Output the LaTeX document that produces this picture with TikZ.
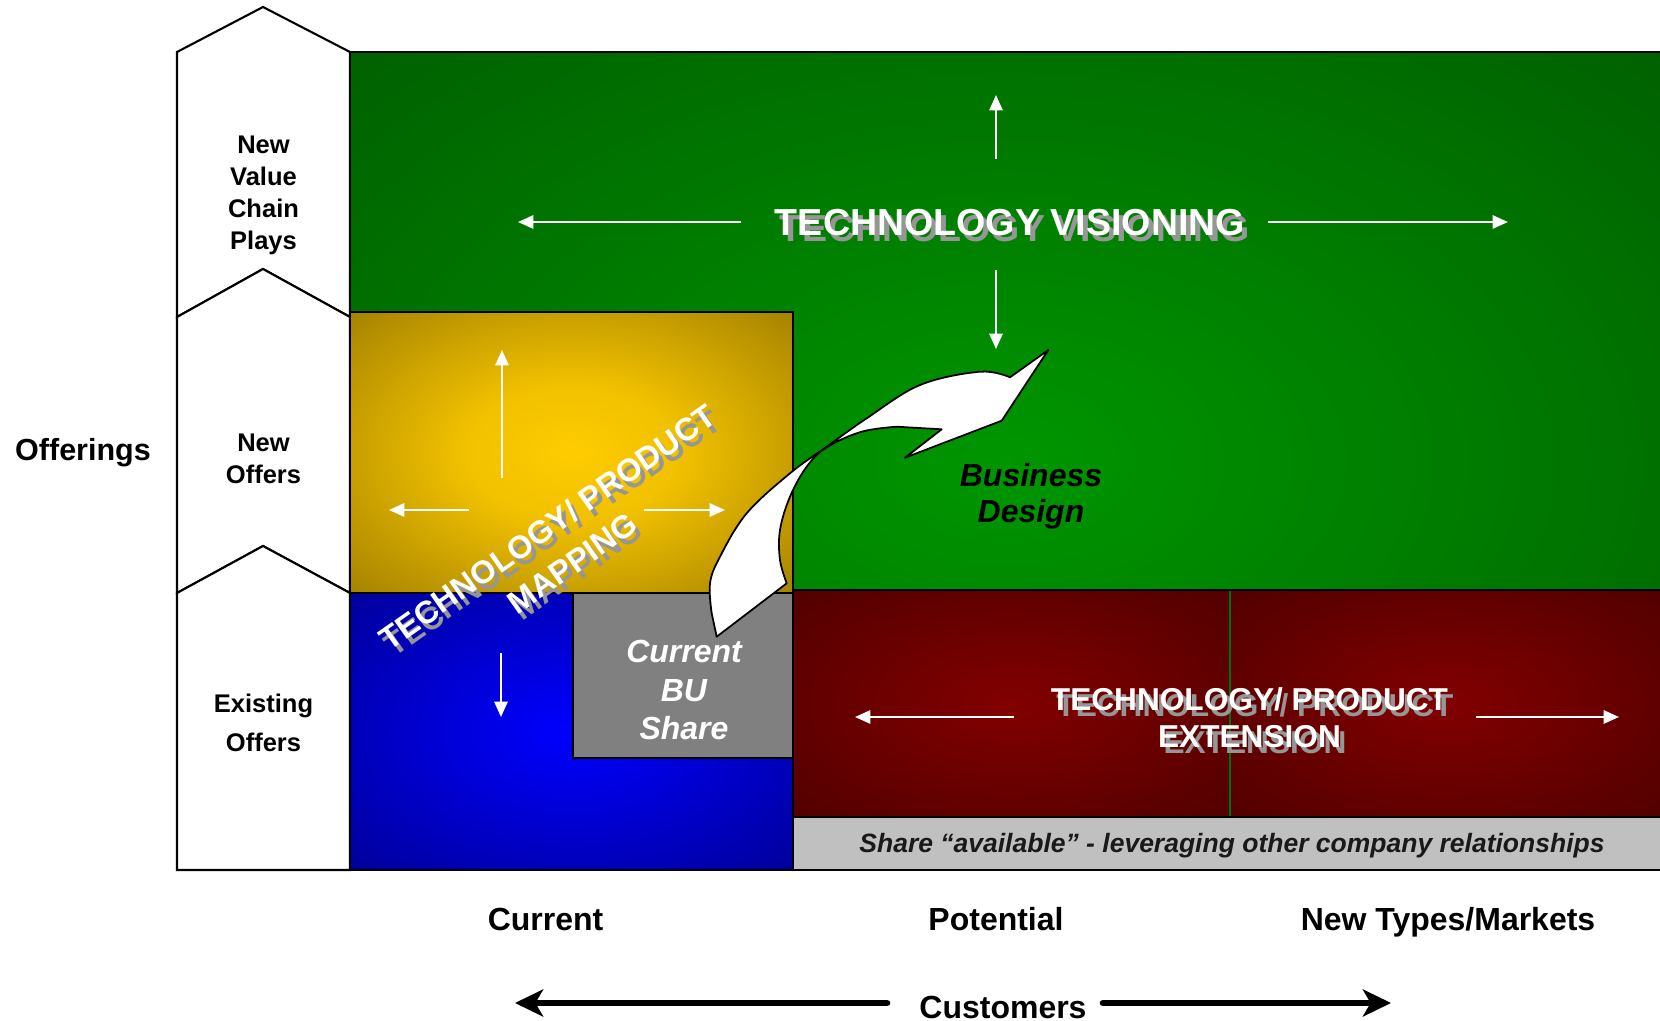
\documentclass[tikz,border=0pt]{standalone}
\usepackage{fontspec}
\setmainfont{Liberation Sans}
\usetikzlibrary{arrows.meta}

\definecolor{visionlight}{RGB}{0,150,0}
\definecolor{visiondark}{RGB}{0,75,0}
\definecolor{mappinglight}{RGB}{255,204,0}
\definecolor{mappingdark}{RGB}{118,92,0}
\definecolor{sharelight}{RGB}{0,0,255}
\definecolor{sharedark}{RGB}{0,0,115}
\definecolor{extensionlight}{RGB}{130,0,0}
\definecolor{extensiondark}{RGB}{62,0,0}
\definecolor{availablegray}{RGB}{192,192,192}
\definecolor{bugray}{RGB}{128,128,128}
\definecolor{shadegray}{RGB}{150,150,150}

\pgfdeclareradialshading{vision}{\pgfpoint{0bp}{0bp}}{color(0bp)=(visionlight); color(50bp)=(visiondark); color(75bp)=(visiondark)}
\pgfdeclareradialshading{mapping}{\pgfpoint{0bp}{0bp}}{color(0bp)=(mappinglight); color(12bp)=(mappinglight!90!mappingdark); color(50bp)=(mappingdark); color(75bp)=(mappingdark)}
\pgfdeclareradialshading{current}{\pgfpoint{0bp}{0bp}}{color(0bp)=(sharelight); color(50bp)=(sharedark); color(75bp)=(sharedark)}
\pgfdeclareradialshading{extension}{\pgfpoint{0bp}{0bp}}{color(0bp)=(extensionlight); color(50bp)=(extensiondark); color(75bp)=(extensiondark)}

\tikzset{
    chevron/.style = {draw, fill=white, line width=0.6pt},
    field/.style = {draw, line width=0.6pt},
    pointer/.style = {draw=white, line width=0.6pt, -{Triangle[length=4.4pt, width=3.8pt]}},
    axis arrow/.style = {line width=1.9pt, line cap=round, -{Stealth[length=8pt, width=7.7pt, inset=2.2pt]}},
    row label/.style = {font=\fontsize{7.26}{9.1}\selectfont\bfseries, align=center, inner sep=0pt},
    axis label/.style = {font=\fontsize{9.1}{10.8}\selectfont\bfseries, inner sep=0pt, anchor=base},
    field title/.style = {text=white, font=\fontsize{9}{10.5}\selectfont\bfseries, align=center, inner sep=0pt},
    title shade/.style = {field title, text=shadegray},
    field note/.style = {font=\fontsize{9.1}{10.1}\selectfont\bfseries\itshape, align=center, inner sep=0pt},
    ribbon/.style = {draw, fill=white, line width=0.5pt, line join=round}
}

\begin{document}
\begin{tikzpicture}[x=0.1mm, y=-0.1mm]
        \useasboundingbox (0,0) rectangle (1660,1021);
        \clip (0,0) rectangle (1660,1021);

        \draw[chevron] (177,52) -- (263,7) -- (350,52) -- (350,317) -- (263,269) -- (177,317) -- cycle;
        \draw[chevron] (177,317) -- (263,269) -- (350,317) -- (350,593) -- (263,546) -- (177,593) -- cycle;
        \draw[chevron] (177,593) -- (263,546) -- (350,593) -- (350,870) -- (177,870) -- cycle;

        \shade[shading=vision] (350,52) rectangle (1660,870);
        \draw[field] (1665,52) -- (350,52) -- (350,312);
        \shade[shading=extension] (793,590) rectangle (1230,817);
        \shade[shading=extension] (1230,590) rectangle (1660,817);
        \draw[field] (793,590) rectangle (1665,817);
        \draw[green!45!black, line width=0.3pt] (1230,591) -- (1230,816);
        \draw[field, fill=availablegray] (793,817) rectangle (1665,870);
        \shadedraw[field, shading=mapping] (350,312) rectangle (793,593);
        \shadedraw[field, shading=current] (350,593) rectangle (793,870);
        \draw[field, fill=bugray] (573,593) rectangle (793,758);

        \coordinate (V0) at (996,159);  \coordinate (V1) at (996,95);
        \coordinate (V2) at (996,270);  \coordinate (V3) at (996,349);
        \coordinate (V4) at (741,222);  \coordinate (V5) at (518,222);
        \coordinate (V6) at (1268,222); \coordinate (V7) at (1508,222);
        \coordinate (M0) at (502,478);  \coordinate (M1) at (502,350);
        \coordinate (M2) at (469,510);  \coordinate (M3) at (389,510);
        \coordinate (M4) at (644,510);  \coordinate (M5) at (725,510);
        \coordinate (B0) at (501,653);  \coordinate (B1) at (501,717);
        \coordinate (E0) at (1014,717); \coordinate (E1) at (855,717);
        \coordinate (E2) at (1476,717); \coordinate (E3) at (1619,717);
        \coordinate (C0) at (887,1003); \coordinate (C1) at (515,1003);
        \coordinate (C2) at (1103,1003); \coordinate (C3) at (1391,1003);

        \draw[pointer] (V0) -- (V1);
        \draw[pointer] (V2) -- (V3);
        \draw[pointer] (V4) -- (V5);
        \draw[pointer] (V6) -- (V7);
        \draw[pointer] (M0) -- (M1);
        \draw[pointer] (M2) -- (M3);
        \draw[pointer] (M4) -- (M5);
        \draw[pointer] (B0) -- (B1);
        \draw[pointer] (E0) -- (E1);
        \draw[pointer] (E2) -- (E3);
        \draw[axis arrow] (C0) -- (C1);
        \draw[axis arrow] (C2) -- (C3);

        \node[row label] (plays) at (263.5,195.5) {New\\Value\\Chain\\Plays};
        \node[row label] (newoffers) at (263.5,459) {New\\Offers};
        \node[row label, font=\fontsize{7.26}{11.1}\selectfont\bfseries] (oldoffers) at (263.5,723) {Existing\\Offers};
        \node[inner sep=0pt, anchor=base, font=\fontsize{8.68}{10}\selectfont\bfseries] (offerings) at (83,460) {Offerings};

        \node[axis label] (current) at (545.5,930) {Current};
        \node[axis label] (potential) at (996,930) {Potential};
        \node[axis label] (newtypes) at (1448,930) {New Types/Markets};
        \node[axis label] (customers) at (1003,1018) {Customers};

        \node[title shade, font=\fontsize{10.7}{12}\selectfont\bfseries, anchor=base] (visionS) at (1015,241) {TECHNOLOGY VISIONING};
        \node[field title, font=\fontsize{10.7}{12}\selectfont\bfseries, anchor=base] (vision) at (1010,235) {TECHNOLOGY VISIONING};
        \node[title shade] (extensionS) at (1255,724) {TECHNOLOGY/ PRODUCT\\EXTENSION};
        \node[field title] (extension) at (1249.5,718) {TECHNOLOGY/ PRODUCT\\EXTENSION};

        \node[field note] (business) at (1031,496) {Business\\Design};
        \node[field note, text=white, font=\fontsize{9.1}{10.9}\selectfont\bfseries\itshape] (bushare) at (684,690) {Current\\BU\\Share};
        \node[inner sep=0pt, anchor=base, text=black!90, font=\fontsize{7.54}{9}\selectfont\bfseries\itshape] (available) at (1232,852.7) {Share “available” - leveraging other company relationships};

        \draw[ribbon] (716.7,636.7) -- plot[smooth, tension=0.6] coordinates {(711.7,613.3) (710,583.3) (720,556.7) (746.7,513.3) (790,473.3) (826.7,446.7) (866.7,418.3) (920,385) (980,371.7) (1010,377.3)}
            -- (1048.3,350) -- (1001.7,420.7) -- (905,457.7) -- (941.7,429.3)
            -- plot[smooth, tension=0.6] coordinates {(896.7,426.7) (861.7,431.7) (826.7,447.3) (806.7,466.7) (790,496.7) (780,530) (780,560) (786.7,583.3)} -- cycle;

        \node[title shade, rotate=35, font=\fontsize{9.1}{12.4}\selectfont\bfseries] (mappingS) at (565,551) {TECHNOLOGY/ PRODUCT\\MAPPING};
        \node[field title, rotate=35, font=\fontsize{9.1}{12.4}\selectfont\bfseries] (mapping) at (560,545) {TECHNOLOGY/ PRODUCT\\MAPPING};
\end{tikzpicture}
\end{document}
